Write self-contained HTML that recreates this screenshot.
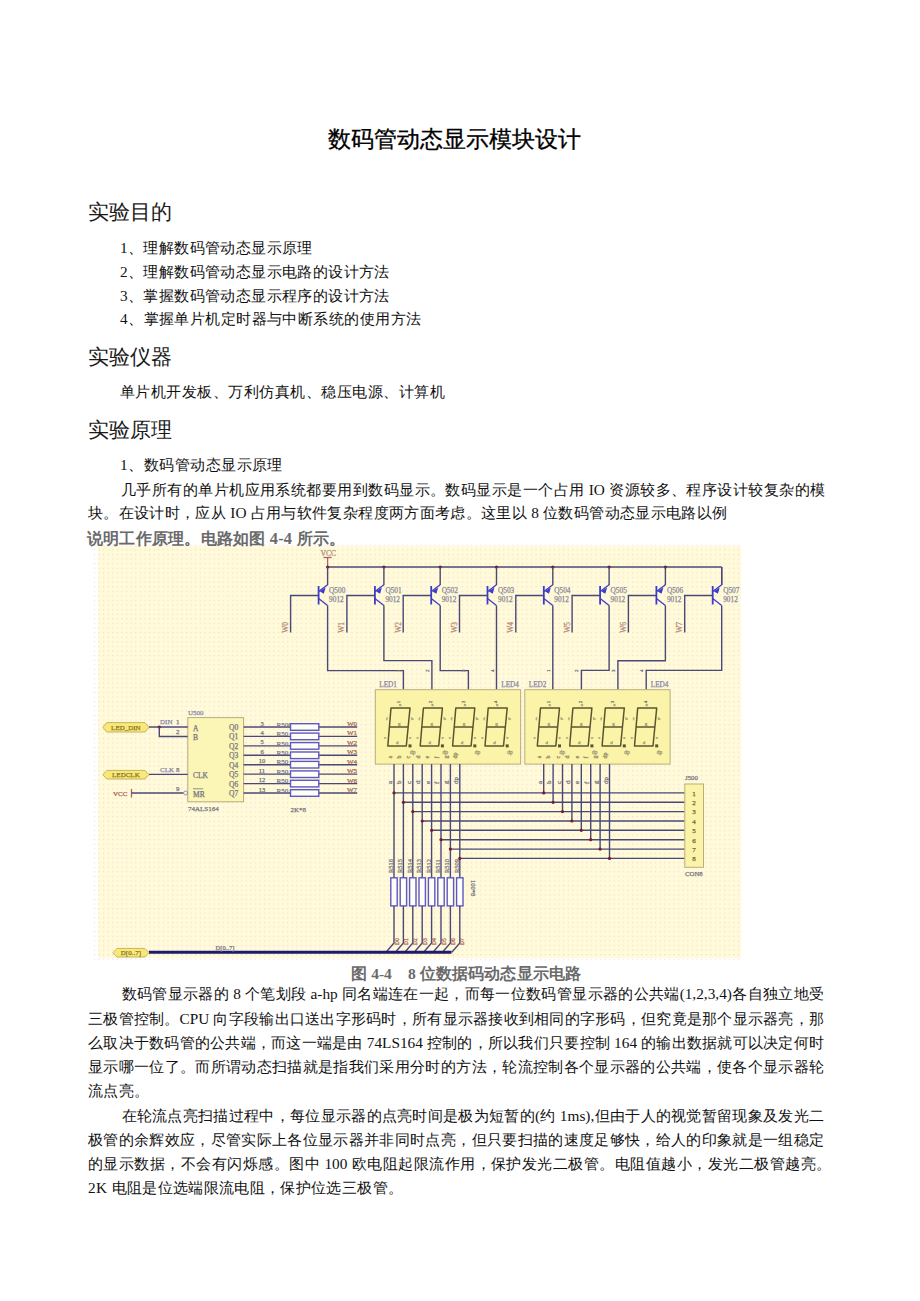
<!DOCTYPE html>
<html><head><meta charset="utf-8">
<style>
html,body{margin:0;padding:0;background:#fff;}
body{width:920px;height:1301px;position:relative;overflow:hidden;font-family:"Liberation Serif",serif;color:#111;}
.l{position:absolute;white-space:nowrap;font-size:15.3px;line-height:18px;height:18px;}
.j{text-align:justify;text-align-last:justify;}
.h{position:absolute;white-space:nowrap;font-size:21px;line-height:24px;font-family:"Liberation Sans",sans-serif;font-weight:300;color:#1a1a1a;}
#title{position:absolute;left:328px;top:124px;width:253px;font-size:23px;line-height:30px;font-family:"Liberation Sans",sans-serif;text-align:justify;text-align-last:justify;white-space:nowrap;color:#000;-webkit-text-stroke:0.3px #000;}
svg{position:absolute;left:0;top:0;}
</style></head><body>
<svg width="920" height="1301" style="font-family:'Liberation Serif',serif"><defs><pattern id="dp" x="0" y="0" width="4.6" height="4.6" patternUnits="userSpaceOnUse"><rect x="2" y="2" width="1" height="1" fill="#f6c4e4"/></pattern></defs><rect x="98" y="546" width="643" height="412" fill="#fffbd8"/><rect x="93" y="543" width="648" height="420" fill="url(#dp)"/><text x="320.5" y="555.8" fill="#b48a7c" stroke="#b48a7c" stroke-width="0.25" font-size="7.6" text-anchor="start">VCC</text><line x1="327.6" y1="557.0" x2="327.6" y2="567.0" stroke="#a86858" stroke-width="1.3"/><line x1="323.5" y1="557.5" x2="331.7" y2="557.5" stroke="#a86858" stroke-width="1.3"/><line x1="327.6" y1="567.0" x2="721.7" y2="567.0" stroke="#4a4878" stroke-width="1.4"/><line x1="721.7" y1="567.0" x2="721.7" y2="585.0" stroke="#4a4878" stroke-width="1.4"/><circle cx="327.6" cy="567.0" r="1.6" fill="#7a1a2a"/><line x1="327.6" y1="567.0" x2="327.6" y2="585.0" stroke="#4a4878" stroke-width="1.4"/><line x1="318.6" y1="586.0" x2="318.6" y2="604.5" stroke="#3c3cc8" stroke-width="1.8"/><line x1="318.6" y1="591.5" x2="327.6" y2="584.8" stroke="#3c3cc8" stroke-width="1.3"/><polygon points="319.6,591.2 325.6,587.6 323.8,593.8" fill="#3c3cc8"/><line x1="318.6" y1="598.5" x2="327.6" y2="605.5" stroke="#3c3cc8" stroke-width="1.3"/><polyline points="290.6,632.5 290.6,595.5 318.6,595.5" fill="none" stroke="#4a4878" stroke-width="1.4"/><text x="329.1" y="592.8" fill="#8a8a9a" stroke="#8a8a9a" stroke-width="0.25" font-size="7.3" text-anchor="start">Q500</text><text x="329.1" y="602.3" fill="#8a8a9a" stroke="#8a8a9a" stroke-width="0.25" font-size="7.3" text-anchor="start">9012</text><text x="288.2" y="632.8" fill="#b48a7c" stroke="#b48a7c" stroke-width="0.25" font-size="7.5" text-anchor="start" transform="rotate(-90 288.2 632.8)">W0</text><polyline points="327.6,605.5 327.6,670.6 403.4,670.6 403.4,689.7" fill="none" stroke="#4a4878" stroke-width="1.4"/><circle cx="383.9" cy="567.0" r="1.6" fill="#7a1a2a"/><line x1="383.9" y1="567.0" x2="383.9" y2="585.0" stroke="#4a4878" stroke-width="1.4"/><line x1="374.9" y1="586.0" x2="374.9" y2="604.5" stroke="#3c3cc8" stroke-width="1.8"/><line x1="374.9" y1="591.5" x2="383.9" y2="584.8" stroke="#3c3cc8" stroke-width="1.3"/><polygon points="375.9,591.2 381.9,587.6 380.1,593.8" fill="#3c3cc8"/><line x1="374.9" y1="598.5" x2="383.9" y2="605.5" stroke="#3c3cc8" stroke-width="1.3"/><polyline points="346.9,632.5 346.9,595.5 374.9,595.5" fill="none" stroke="#4a4878" stroke-width="1.4"/><text x="385.4" y="592.8" fill="#8a8a9a" stroke="#8a8a9a" stroke-width="0.25" font-size="7.3" text-anchor="start">Q501</text><text x="385.4" y="602.3" fill="#8a8a9a" stroke="#8a8a9a" stroke-width="0.25" font-size="7.3" text-anchor="start">9012</text><text x="344.5" y="632.8" fill="#b48a7c" stroke="#b48a7c" stroke-width="0.25" font-size="7.5" text-anchor="start" transform="rotate(-90 344.5 632.8)">W1</text><polyline points="383.9,605.5 383.9,660.6 431.9,660.6 431.9,689.7" fill="none" stroke="#4a4878" stroke-width="1.4"/><circle cx="440.2" cy="567.0" r="1.6" fill="#7a1a2a"/><line x1="440.2" y1="567.0" x2="440.2" y2="585.0" stroke="#4a4878" stroke-width="1.4"/><line x1="431.2" y1="586.0" x2="431.2" y2="604.5" stroke="#3c3cc8" stroke-width="1.8"/><line x1="431.2" y1="591.5" x2="440.2" y2="584.8" stroke="#3c3cc8" stroke-width="1.3"/><polygon points="432.2,591.2 438.2,587.6 436.4,593.8" fill="#3c3cc8"/><line x1="431.2" y1="598.5" x2="440.2" y2="605.5" stroke="#3c3cc8" stroke-width="1.3"/><polyline points="403.2,632.5 403.2,595.5 431.2,595.5" fill="none" stroke="#4a4878" stroke-width="1.4"/><text x="441.7" y="592.8" fill="#8a8a9a" stroke="#8a8a9a" stroke-width="0.25" font-size="7.3" text-anchor="start">Q502</text><text x="441.7" y="602.3" fill="#8a8a9a" stroke="#8a8a9a" stroke-width="0.25" font-size="7.3" text-anchor="start">9012</text><text x="400.8" y="632.8" fill="#b48a7c" stroke="#b48a7c" stroke-width="0.25" font-size="7.5" text-anchor="start" transform="rotate(-90 400.8 632.8)">W2</text><polyline points="440.2,605.5 440.2,670.6 468.4,670.6 468.4,689.7" fill="none" stroke="#4a4878" stroke-width="1.4"/><circle cx="496.5" cy="567.0" r="1.6" fill="#7a1a2a"/><line x1="496.5" y1="567.0" x2="496.5" y2="585.0" stroke="#4a4878" stroke-width="1.4"/><line x1="487.5" y1="586.0" x2="487.5" y2="604.5" stroke="#3c3cc8" stroke-width="1.8"/><line x1="487.5" y1="591.5" x2="496.5" y2="584.8" stroke="#3c3cc8" stroke-width="1.3"/><polygon points="488.5,591.2 494.5,587.6 492.7,593.8" fill="#3c3cc8"/><line x1="487.5" y1="598.5" x2="496.5" y2="605.5" stroke="#3c3cc8" stroke-width="1.3"/><polyline points="459.5,632.5 459.5,595.5 487.5,595.5" fill="none" stroke="#4a4878" stroke-width="1.4"/><text x="498.0" y="592.8" fill="#8a8a9a" stroke="#8a8a9a" stroke-width="0.25" font-size="7.3" text-anchor="start">Q503</text><text x="498.0" y="602.3" fill="#8a8a9a" stroke="#8a8a9a" stroke-width="0.25" font-size="7.3" text-anchor="start">9012</text><text x="457.1" y="632.8" fill="#b48a7c" stroke="#b48a7c" stroke-width="0.25" font-size="7.5" text-anchor="start" transform="rotate(-90 457.1 632.8)">W3</text><line x1="496.5" y1="605.5" x2="496.5" y2="689.7" stroke="#4a4878" stroke-width="1.4"/><circle cx="552.8" cy="567.0" r="1.6" fill="#7a1a2a"/><line x1="552.8" y1="567.0" x2="552.8" y2="585.0" stroke="#4a4878" stroke-width="1.4"/><line x1="543.8" y1="586.0" x2="543.8" y2="604.5" stroke="#3c3cc8" stroke-width="1.8"/><line x1="543.8" y1="591.5" x2="552.8" y2="584.8" stroke="#3c3cc8" stroke-width="1.3"/><polygon points="544.8,591.2 550.8,587.6 549.0,593.8" fill="#3c3cc8"/><line x1="543.8" y1="598.5" x2="552.8" y2="605.5" stroke="#3c3cc8" stroke-width="1.3"/><polyline points="515.8,632.5 515.8,595.5 543.8,595.5" fill="none" stroke="#4a4878" stroke-width="1.4"/><text x="554.3" y="592.8" fill="#8a8a9a" stroke="#8a8a9a" stroke-width="0.25" font-size="7.3" text-anchor="start">Q504</text><text x="554.3" y="602.3" fill="#8a8a9a" stroke="#8a8a9a" stroke-width="0.25" font-size="7.3" text-anchor="start">9012</text><text x="513.4" y="632.8" fill="#b48a7c" stroke="#b48a7c" stroke-width="0.25" font-size="7.5" text-anchor="start" transform="rotate(-90 513.4 632.8)">W4</text><line x1="552.8" y1="605.5" x2="552.8" y2="689.7" stroke="#4a4878" stroke-width="1.4"/><circle cx="609.1" cy="567.0" r="1.6" fill="#7a1a2a"/><line x1="609.1" y1="567.0" x2="609.1" y2="585.0" stroke="#4a4878" stroke-width="1.4"/><line x1="600.1" y1="586.0" x2="600.1" y2="604.5" stroke="#3c3cc8" stroke-width="1.8"/><line x1="600.1" y1="591.5" x2="609.1" y2="584.8" stroke="#3c3cc8" stroke-width="1.3"/><polygon points="601.1,591.2 607.1,587.6 605.3,593.8" fill="#3c3cc8"/><line x1="600.1" y1="598.5" x2="609.1" y2="605.5" stroke="#3c3cc8" stroke-width="1.3"/><polyline points="572.1,632.5 572.1,595.5 600.1,595.5" fill="none" stroke="#4a4878" stroke-width="1.4"/><text x="610.6" y="592.8" fill="#8a8a9a" stroke="#8a8a9a" stroke-width="0.25" font-size="7.3" text-anchor="start">Q505</text><text x="610.6" y="602.3" fill="#8a8a9a" stroke="#8a8a9a" stroke-width="0.25" font-size="7.3" text-anchor="start">9012</text><text x="569.7" y="632.8" fill="#b48a7c" stroke="#b48a7c" stroke-width="0.25" font-size="7.5" text-anchor="start" transform="rotate(-90 569.7 632.8)">W5</text><polyline points="609.1,605.5 609.1,670.4 581.4,670.4 581.4,689.7" fill="none" stroke="#4a4878" stroke-width="1.4"/><circle cx="665.4" cy="567.0" r="1.6" fill="#7a1a2a"/><line x1="665.4" y1="567.0" x2="665.4" y2="585.0" stroke="#4a4878" stroke-width="1.4"/><line x1="656.4" y1="586.0" x2="656.4" y2="604.5" stroke="#3c3cc8" stroke-width="1.8"/><line x1="656.4" y1="591.5" x2="665.4" y2="584.8" stroke="#3c3cc8" stroke-width="1.3"/><polygon points="657.4,591.2 663.4,587.6 661.6,593.8" fill="#3c3cc8"/><line x1="656.4" y1="598.5" x2="665.4" y2="605.5" stroke="#3c3cc8" stroke-width="1.3"/><polyline points="628.4,632.5 628.4,595.5 656.4,595.5" fill="none" stroke="#4a4878" stroke-width="1.4"/><text x="666.9" y="592.8" fill="#8a8a9a" stroke="#8a8a9a" stroke-width="0.25" font-size="7.3" text-anchor="start">Q506</text><text x="666.9" y="602.3" fill="#8a8a9a" stroke="#8a8a9a" stroke-width="0.25" font-size="7.3" text-anchor="start">9012</text><text x="626.0" y="632.8" fill="#b48a7c" stroke="#b48a7c" stroke-width="0.25" font-size="7.5" text-anchor="start" transform="rotate(-90 626.0 632.8)">W6</text><polyline points="665.4,605.5 665.4,660.7 617.9,660.7 617.9,689.7" fill="none" stroke="#4a4878" stroke-width="1.4"/><line x1="721.7" y1="567.0" x2="721.7" y2="585.0" stroke="#4a4878" stroke-width="1.4"/><line x1="712.7" y1="586.0" x2="712.7" y2="604.5" stroke="#3c3cc8" stroke-width="1.8"/><line x1="712.7" y1="591.5" x2="721.7" y2="584.8" stroke="#3c3cc8" stroke-width="1.3"/><polygon points="713.7,591.2 719.7,587.6 717.9,593.8" fill="#3c3cc8"/><line x1="712.7" y1="598.5" x2="721.7" y2="605.5" stroke="#3c3cc8" stroke-width="1.3"/><polyline points="684.7,632.5 684.7,595.5 712.7,595.5" fill="none" stroke="#4a4878" stroke-width="1.4"/><text x="723.2" y="592.8" fill="#8a8a9a" stroke="#8a8a9a" stroke-width="0.25" font-size="7.3" text-anchor="start">Q507</text><text x="723.2" y="602.3" fill="#8a8a9a" stroke="#8a8a9a" stroke-width="0.25" font-size="7.3" text-anchor="start">9012</text><text x="682.3" y="632.8" fill="#b48a7c" stroke="#b48a7c" stroke-width="0.25" font-size="7.5" text-anchor="start" transform="rotate(-90 682.3 632.8)">W7</text><polyline points="721.7,605.5 721.7,670.4 646.2,670.4 646.2,689.7" fill="none" stroke="#4a4878" stroke-width="1.4"/><rect x="375.3" y="689.7" width="145.3" height="74.4" fill="#fbf4a8" stroke="#b8ae80" stroke-width="1"/><text x="379.3" y="687.0" fill="#8888a8" stroke="#8888a8" stroke-width="0.25" font-size="7.2" text-anchor="start">LED1</text><text x="501.3" y="687.0" fill="#8888a8" stroke="#8888a8" stroke-width="0.25" font-size="7.2" text-anchor="start">LED4</text><text x="400.4" y="672.0" fill="#75757f" stroke="#75757f" stroke-width="0.25" font-size="5" text-anchor="start" transform="rotate(-90 400.4 672.0)">1</text><text x="428.9" y="672.0" fill="#75757f" stroke="#75757f" stroke-width="0.25" font-size="5" text-anchor="start" transform="rotate(-90 428.9 672.0)">2</text><text x="465.4" y="672.0" fill="#75757f" stroke="#75757f" stroke-width="0.25" font-size="5" text-anchor="start" transform="rotate(-90 465.4 672.0)">3</text><text x="493.7" y="672.0" fill="#75757f" stroke="#75757f" stroke-width="0.25" font-size="5" text-anchor="start" transform="rotate(-90 493.7 672.0)">4</text><path d="M391.0,708 L410.0,708 L406.3,746 L387.8,746 Z M389.4,727 L408.2,727" fill="none" stroke="#5a5530" stroke-width="1.5" stroke-linejoin="round"/><rect x="408.5" y="744.4" width="3" height="3" fill="#5a5530"/><text x="400.0" y="702.0" fill="#75757f" stroke="#75757f" stroke-width="0.25" font-size="5" text-anchor="middle" transform="rotate(-90 400.0 702.0)">1</text><text x="400.0" y="706.0" fill="#9a9470" stroke="#9a9470" stroke-width="0.25" font-size="5" text-anchor="middle">a</text><text x="386.0" y="720.0" fill="#9a9470" stroke="#9a9470" stroke-width="0.25" font-size="5" text-anchor="start">f</text><text x="411.0" y="720.0" fill="#9a9470" stroke="#9a9470" stroke-width="0.25" font-size="5" text-anchor="start">b</text><text x="398.0" y="725.0" fill="#9a9470" stroke="#9a9470" stroke-width="0.25" font-size="5" text-anchor="start">g</text><text x="384.0" y="739.0" fill="#9a9470" stroke="#9a9470" stroke-width="0.25" font-size="5" text-anchor="start">e</text><text x="409.0" y="739.0" fill="#9a9470" stroke="#9a9470" stroke-width="0.25" font-size="5" text-anchor="start">c</text><text x="396.0" y="744.0" fill="#9a9470" stroke="#9a9470" stroke-width="0.25" font-size="5" text-anchor="start">d</text><text x="410.0" y="754.0" fill="#9a9470" stroke="#9a9470" stroke-width="0.25" font-size="5.5" text-anchor="start">dp</text><path d="M423.4,708 L442.4,708 L438.7,746 L420.2,746 Z M421.8,727 L440.6,727" fill="none" stroke="#5a5530" stroke-width="1.5" stroke-linejoin="round"/><rect x="440.9" y="744.4" width="3" height="3" fill="#5a5530"/><text x="432.4" y="702.0" fill="#75757f" stroke="#75757f" stroke-width="0.25" font-size="5" text-anchor="middle" transform="rotate(-90 432.4 702.0)">2</text><text x="432.4" y="706.0" fill="#9a9470" stroke="#9a9470" stroke-width="0.25" font-size="5" text-anchor="middle">a</text><text x="418.4" y="720.0" fill="#9a9470" stroke="#9a9470" stroke-width="0.25" font-size="5" text-anchor="start">f</text><text x="443.4" y="720.0" fill="#9a9470" stroke="#9a9470" stroke-width="0.25" font-size="5" text-anchor="start">b</text><text x="430.4" y="725.0" fill="#9a9470" stroke="#9a9470" stroke-width="0.25" font-size="5" text-anchor="start">g</text><text x="416.4" y="739.0" fill="#9a9470" stroke="#9a9470" stroke-width="0.25" font-size="5" text-anchor="start">e</text><text x="441.4" y="739.0" fill="#9a9470" stroke="#9a9470" stroke-width="0.25" font-size="5" text-anchor="start">c</text><text x="428.4" y="744.0" fill="#9a9470" stroke="#9a9470" stroke-width="0.25" font-size="5" text-anchor="start">d</text><text x="442.4" y="754.0" fill="#9a9470" stroke="#9a9470" stroke-width="0.25" font-size="5.5" text-anchor="start">dp</text><path d="M455.8,708 L474.8,708 L471.1,746 L452.6,746 Z M454.2,727 L473.0,727" fill="none" stroke="#5a5530" stroke-width="1.5" stroke-linejoin="round"/><rect x="473.3" y="744.4" width="3" height="3" fill="#5a5530"/><text x="464.8" y="702.0" fill="#75757f" stroke="#75757f" stroke-width="0.25" font-size="5" text-anchor="middle" transform="rotate(-90 464.8 702.0)">3</text><text x="464.8" y="706.0" fill="#9a9470" stroke="#9a9470" stroke-width="0.25" font-size="5" text-anchor="middle">a</text><text x="450.8" y="720.0" fill="#9a9470" stroke="#9a9470" stroke-width="0.25" font-size="5" text-anchor="start">f</text><text x="475.8" y="720.0" fill="#9a9470" stroke="#9a9470" stroke-width="0.25" font-size="5" text-anchor="start">b</text><text x="462.8" y="725.0" fill="#9a9470" stroke="#9a9470" stroke-width="0.25" font-size="5" text-anchor="start">g</text><text x="448.8" y="739.0" fill="#9a9470" stroke="#9a9470" stroke-width="0.25" font-size="5" text-anchor="start">e</text><text x="473.8" y="739.0" fill="#9a9470" stroke="#9a9470" stroke-width="0.25" font-size="5" text-anchor="start">c</text><text x="460.8" y="744.0" fill="#9a9470" stroke="#9a9470" stroke-width="0.25" font-size="5" text-anchor="start">d</text><text x="474.8" y="754.0" fill="#9a9470" stroke="#9a9470" stroke-width="0.25" font-size="5.5" text-anchor="start">dp</text><path d="M488.2,708 L507.2,708 L503.5,746 L485.0,746 Z M486.6,727 L505.4,727" fill="none" stroke="#5a5530" stroke-width="1.5" stroke-linejoin="round"/><rect x="505.7" y="744.4" width="3" height="3" fill="#5a5530"/><text x="497.2" y="702.0" fill="#75757f" stroke="#75757f" stroke-width="0.25" font-size="5" text-anchor="middle" transform="rotate(-90 497.2 702.0)">4</text><text x="497.2" y="706.0" fill="#9a9470" stroke="#9a9470" stroke-width="0.25" font-size="5" text-anchor="middle">a</text><text x="483.2" y="720.0" fill="#9a9470" stroke="#9a9470" stroke-width="0.25" font-size="5" text-anchor="start">f</text><text x="508.2" y="720.0" fill="#9a9470" stroke="#9a9470" stroke-width="0.25" font-size="5" text-anchor="start">b</text><text x="495.2" y="725.0" fill="#9a9470" stroke="#9a9470" stroke-width="0.25" font-size="5" text-anchor="start">g</text><text x="481.2" y="739.0" fill="#9a9470" stroke="#9a9470" stroke-width="0.25" font-size="5" text-anchor="start">e</text><text x="506.2" y="739.0" fill="#9a9470" stroke="#9a9470" stroke-width="0.25" font-size="5" text-anchor="start">c</text><text x="493.2" y="744.0" fill="#9a9470" stroke="#9a9470" stroke-width="0.25" font-size="5" text-anchor="start">d</text><text x="507.2" y="754.0" fill="#9a9470" stroke="#9a9470" stroke-width="0.25" font-size="5.5" text-anchor="start">dp</text><text x="391.5" y="758.5" fill="#8a8460" stroke="#8a8460" stroke-width="0.25" font-size="6" text-anchor="start" transform="rotate(-90 391.5 758.5)">a</text><text x="400.9" y="758.5" fill="#8a8460" stroke="#8a8460" stroke-width="0.25" font-size="6" text-anchor="start" transform="rotate(-90 400.9 758.5)">b</text><text x="410.3" y="758.5" fill="#8a8460" stroke="#8a8460" stroke-width="0.25" font-size="6" text-anchor="start" transform="rotate(-90 410.3 758.5)">c</text><text x="419.7" y="758.5" fill="#8a8460" stroke="#8a8460" stroke-width="0.25" font-size="6" text-anchor="start" transform="rotate(-90 419.7 758.5)">d</text><text x="429.1" y="758.5" fill="#8a8460" stroke="#8a8460" stroke-width="0.25" font-size="6" text-anchor="start" transform="rotate(-90 429.1 758.5)">e</text><text x="438.5" y="758.5" fill="#8a8460" stroke="#8a8460" stroke-width="0.25" font-size="6" text-anchor="start" transform="rotate(-90 438.5 758.5)">f</text><text x="447.9" y="758.5" fill="#8a8460" stroke="#8a8460" stroke-width="0.25" font-size="6" text-anchor="start" transform="rotate(-90 447.9 758.5)">g</text><text x="457.3" y="758.5" fill="#8a8460" stroke="#8a8460" stroke-width="0.25" font-size="6" text-anchor="start" transform="rotate(-90 457.3 758.5)">dp</text><rect x="524.8" y="689.7" width="145.3" height="74.4" fill="#fbf4a8" stroke="#b8ae80" stroke-width="1"/><text x="528.8" y="687.0" fill="#8888a8" stroke="#8888a8" stroke-width="0.25" font-size="7.2" text-anchor="start">LED2</text><text x="650.8" y="687.0" fill="#8888a8" stroke="#8888a8" stroke-width="0.25" font-size="7.2" text-anchor="start">LED4</text><text x="549.9" y="672.0" fill="#75757f" stroke="#75757f" stroke-width="0.25" font-size="5" text-anchor="start" transform="rotate(-90 549.9 672.0)">1</text><text x="578.4" y="672.0" fill="#75757f" stroke="#75757f" stroke-width="0.25" font-size="5" text-anchor="start" transform="rotate(-90 578.4 672.0)">2</text><text x="614.9" y="672.0" fill="#75757f" stroke="#75757f" stroke-width="0.25" font-size="5" text-anchor="start" transform="rotate(-90 614.9 672.0)">3</text><text x="643.2" y="672.0" fill="#75757f" stroke="#75757f" stroke-width="0.25" font-size="5" text-anchor="start" transform="rotate(-90 643.2 672.0)">4</text><path d="M540.5,708 L559.5,708 L555.8,746 L537.3,746 Z M538.9,727 L557.7,727" fill="none" stroke="#5a5530" stroke-width="1.5" stroke-linejoin="round"/><rect x="558.0" y="744.4" width="3" height="3" fill="#5a5530"/><text x="549.5" y="702.0" fill="#75757f" stroke="#75757f" stroke-width="0.25" font-size="5" text-anchor="middle" transform="rotate(-90 549.5 702.0)">1</text><text x="549.5" y="706.0" fill="#9a9470" stroke="#9a9470" stroke-width="0.25" font-size="5" text-anchor="middle">a</text><text x="535.5" y="720.0" fill="#9a9470" stroke="#9a9470" stroke-width="0.25" font-size="5" text-anchor="start">f</text><text x="560.5" y="720.0" fill="#9a9470" stroke="#9a9470" stroke-width="0.25" font-size="5" text-anchor="start">b</text><text x="547.5" y="725.0" fill="#9a9470" stroke="#9a9470" stroke-width="0.25" font-size="5" text-anchor="start">g</text><text x="533.5" y="739.0" fill="#9a9470" stroke="#9a9470" stroke-width="0.25" font-size="5" text-anchor="start">e</text><text x="558.5" y="739.0" fill="#9a9470" stroke="#9a9470" stroke-width="0.25" font-size="5" text-anchor="start">c</text><text x="545.5" y="744.0" fill="#9a9470" stroke="#9a9470" stroke-width="0.25" font-size="5" text-anchor="start">d</text><text x="559.5" y="754.0" fill="#9a9470" stroke="#9a9470" stroke-width="0.25" font-size="5.5" text-anchor="start">dp</text><path d="M572.9,708 L591.9,708 L588.2,746 L569.7,746 Z M571.3,727 L590.1,727" fill="none" stroke="#5a5530" stroke-width="1.5" stroke-linejoin="round"/><rect x="590.4" y="744.4" width="3" height="3" fill="#5a5530"/><text x="581.9" y="702.0" fill="#75757f" stroke="#75757f" stroke-width="0.25" font-size="5" text-anchor="middle" transform="rotate(-90 581.9 702.0)">2</text><text x="581.9" y="706.0" fill="#9a9470" stroke="#9a9470" stroke-width="0.25" font-size="5" text-anchor="middle">a</text><text x="567.9" y="720.0" fill="#9a9470" stroke="#9a9470" stroke-width="0.25" font-size="5" text-anchor="start">f</text><text x="592.9" y="720.0" fill="#9a9470" stroke="#9a9470" stroke-width="0.25" font-size="5" text-anchor="start">b</text><text x="579.9" y="725.0" fill="#9a9470" stroke="#9a9470" stroke-width="0.25" font-size="5" text-anchor="start">g</text><text x="565.9" y="739.0" fill="#9a9470" stroke="#9a9470" stroke-width="0.25" font-size="5" text-anchor="start">e</text><text x="590.9" y="739.0" fill="#9a9470" stroke="#9a9470" stroke-width="0.25" font-size="5" text-anchor="start">c</text><text x="577.9" y="744.0" fill="#9a9470" stroke="#9a9470" stroke-width="0.25" font-size="5" text-anchor="start">d</text><text x="591.9" y="754.0" fill="#9a9470" stroke="#9a9470" stroke-width="0.25" font-size="5.5" text-anchor="start">dp</text><path d="M605.3,708 L624.3,708 L620.6,746 L602.1,746 Z M603.7,727 L622.5,727" fill="none" stroke="#5a5530" stroke-width="1.5" stroke-linejoin="round"/><rect x="622.8" y="744.4" width="3" height="3" fill="#5a5530"/><text x="614.3" y="702.0" fill="#75757f" stroke="#75757f" stroke-width="0.25" font-size="5" text-anchor="middle" transform="rotate(-90 614.3 702.0)">3</text><text x="614.3" y="706.0" fill="#9a9470" stroke="#9a9470" stroke-width="0.25" font-size="5" text-anchor="middle">a</text><text x="600.3" y="720.0" fill="#9a9470" stroke="#9a9470" stroke-width="0.25" font-size="5" text-anchor="start">f</text><text x="625.3" y="720.0" fill="#9a9470" stroke="#9a9470" stroke-width="0.25" font-size="5" text-anchor="start">b</text><text x="612.3" y="725.0" fill="#9a9470" stroke="#9a9470" stroke-width="0.25" font-size="5" text-anchor="start">g</text><text x="598.3" y="739.0" fill="#9a9470" stroke="#9a9470" stroke-width="0.25" font-size="5" text-anchor="start">e</text><text x="623.3" y="739.0" fill="#9a9470" stroke="#9a9470" stroke-width="0.25" font-size="5" text-anchor="start">c</text><text x="610.3" y="744.0" fill="#9a9470" stroke="#9a9470" stroke-width="0.25" font-size="5" text-anchor="start">d</text><text x="624.3" y="754.0" fill="#9a9470" stroke="#9a9470" stroke-width="0.25" font-size="5.5" text-anchor="start">dp</text><path d="M637.7,708 L656.7,708 L653.0,746 L634.5,746 Z M636.1,727 L654.9,727" fill="none" stroke="#5a5530" stroke-width="1.5" stroke-linejoin="round"/><rect x="655.2" y="744.4" width="3" height="3" fill="#5a5530"/><text x="646.7" y="702.0" fill="#75757f" stroke="#75757f" stroke-width="0.25" font-size="5" text-anchor="middle" transform="rotate(-90 646.7 702.0)">4</text><text x="646.7" y="706.0" fill="#9a9470" stroke="#9a9470" stroke-width="0.25" font-size="5" text-anchor="middle">a</text><text x="632.7" y="720.0" fill="#9a9470" stroke="#9a9470" stroke-width="0.25" font-size="5" text-anchor="start">f</text><text x="657.7" y="720.0" fill="#9a9470" stroke="#9a9470" stroke-width="0.25" font-size="5" text-anchor="start">b</text><text x="644.7" y="725.0" fill="#9a9470" stroke="#9a9470" stroke-width="0.25" font-size="5" text-anchor="start">g</text><text x="630.7" y="739.0" fill="#9a9470" stroke="#9a9470" stroke-width="0.25" font-size="5" text-anchor="start">e</text><text x="655.7" y="739.0" fill="#9a9470" stroke="#9a9470" stroke-width="0.25" font-size="5" text-anchor="start">c</text><text x="642.7" y="744.0" fill="#9a9470" stroke="#9a9470" stroke-width="0.25" font-size="5" text-anchor="start">d</text><text x="656.7" y="754.0" fill="#9a9470" stroke="#9a9470" stroke-width="0.25" font-size="5.5" text-anchor="start">dp</text><text x="541.0" y="758.5" fill="#8a8460" stroke="#8a8460" stroke-width="0.25" font-size="6" text-anchor="start" transform="rotate(-90 541.0 758.5)">a</text><text x="550.4" y="758.5" fill="#8a8460" stroke="#8a8460" stroke-width="0.25" font-size="6" text-anchor="start" transform="rotate(-90 550.4 758.5)">b</text><text x="559.8" y="758.5" fill="#8a8460" stroke="#8a8460" stroke-width="0.25" font-size="6" text-anchor="start" transform="rotate(-90 559.8 758.5)">c</text><text x="569.2" y="758.5" fill="#8a8460" stroke="#8a8460" stroke-width="0.25" font-size="6" text-anchor="start" transform="rotate(-90 569.2 758.5)">d</text><text x="578.6" y="758.5" fill="#8a8460" stroke="#8a8460" stroke-width="0.25" font-size="6" text-anchor="start" transform="rotate(-90 578.6 758.5)">e</text><text x="588.0" y="758.5" fill="#8a8460" stroke="#8a8460" stroke-width="0.25" font-size="6" text-anchor="start" transform="rotate(-90 588.0 758.5)">f</text><text x="597.4" y="758.5" fill="#8a8460" stroke="#8a8460" stroke-width="0.25" font-size="6" text-anchor="start" transform="rotate(-90 597.4 758.5)">g</text><text x="606.8" y="758.5" fill="#8a8460" stroke="#8a8460" stroke-width="0.25" font-size="6" text-anchor="start" transform="rotate(-90 606.8 758.5)">dp</text><line x1="394.0" y1="764.1" x2="394.0" y2="877.8" stroke="#4a4878" stroke-width="1.4"/><line x1="543.7" y1="764.1" x2="543.7" y2="792.9" stroke="#4a4878" stroke-width="1.4"/><line x1="394.0" y1="792.9" x2="684.8" y2="792.9" stroke="#4a4878" stroke-width="1.4"/><circle cx="394.0" cy="792.9" r="1.6" fill="#7a1a2a"/><circle cx="543.7" cy="792.9" r="1.6" fill="#7a1a2a"/><text x="392.0" y="784.0" fill="#75757f" stroke="#75757f" stroke-width="0.25" font-size="7" text-anchor="start" transform="rotate(-90 392.0 784.0)">a</text><text x="541.7" y="784.0" fill="#75757f" stroke="#75757f" stroke-width="0.25" font-size="7" text-anchor="start" transform="rotate(-90 541.7 784.0)">a</text><rect x="390.8" y="877.8" width="6.4" height="28.1" fill="#fffef6" stroke="#5c58c8" stroke-width="1.4"/><polyline points="394.0,905.9 394.0,943.0 386.0,952.3" fill="none" stroke="#4a4878" stroke-width="1.4"/><text x="393.0" y="873.0" fill="#75757f" stroke="#75757f" stroke-width="0.25" font-size="6.5" text-anchor="start" transform="rotate(-90 393.0 873.0)">R516</text><text x="398.5" y="945.0" fill="#a86858" stroke="#a86858" stroke-width="0.25" font-size="5.5" text-anchor="start" transform="rotate(-90 398.5 945.0)">D0</text><line x1="403.4" y1="764.1" x2="403.4" y2="877.8" stroke="#4a4878" stroke-width="1.4"/><line x1="553.1" y1="764.1" x2="553.1" y2="802.3" stroke="#4a4878" stroke-width="1.4"/><line x1="403.4" y1="802.3" x2="684.8" y2="802.3" stroke="#4a4878" stroke-width="1.4"/><circle cx="403.4" cy="802.3" r="1.6" fill="#7a1a2a"/><circle cx="553.1" cy="802.3" r="1.6" fill="#7a1a2a"/><text x="401.4" y="784.0" fill="#75757f" stroke="#75757f" stroke-width="0.25" font-size="7" text-anchor="start" transform="rotate(-90 401.4 784.0)">b</text><text x="551.1" y="784.0" fill="#75757f" stroke="#75757f" stroke-width="0.25" font-size="7" text-anchor="start" transform="rotate(-90 551.1 784.0)">b</text><rect x="400.2" y="877.8" width="6.4" height="28.1" fill="#fffef6" stroke="#5c58c8" stroke-width="1.4"/><polyline points="403.4,905.9 403.4,943.0 395.4,952.3" fill="none" stroke="#4a4878" stroke-width="1.4"/><text x="402.4" y="873.0" fill="#75757f" stroke="#75757f" stroke-width="0.25" font-size="6.5" text-anchor="start" transform="rotate(-90 402.4 873.0)">R515</text><text x="407.9" y="945.0" fill="#a86858" stroke="#a86858" stroke-width="0.25" font-size="5.5" text-anchor="start" transform="rotate(-90 407.9 945.0)">D1</text><line x1="412.8" y1="764.1" x2="412.8" y2="877.8" stroke="#4a4878" stroke-width="1.4"/><line x1="562.5" y1="764.1" x2="562.5" y2="811.6" stroke="#4a4878" stroke-width="1.4"/><line x1="412.8" y1="811.6" x2="684.8" y2="811.6" stroke="#4a4878" stroke-width="1.4"/><circle cx="412.8" cy="811.6" r="1.6" fill="#7a1a2a"/><circle cx="562.5" cy="811.6" r="1.6" fill="#7a1a2a"/><text x="410.8" y="784.0" fill="#75757f" stroke="#75757f" stroke-width="0.25" font-size="7" text-anchor="start" transform="rotate(-90 410.8 784.0)">c</text><text x="560.5" y="784.0" fill="#75757f" stroke="#75757f" stroke-width="0.25" font-size="7" text-anchor="start" transform="rotate(-90 560.5 784.0)">c</text><rect x="409.6" y="877.8" width="6.4" height="28.1" fill="#fffef6" stroke="#5c58c8" stroke-width="1.4"/><polyline points="412.8,905.9 412.8,943.0 404.8,952.3" fill="none" stroke="#4a4878" stroke-width="1.4"/><text x="411.8" y="873.0" fill="#75757f" stroke="#75757f" stroke-width="0.25" font-size="6.5" text-anchor="start" transform="rotate(-90 411.8 873.0)">R514</text><text x="417.3" y="945.0" fill="#a86858" stroke="#a86858" stroke-width="0.25" font-size="5.5" text-anchor="start" transform="rotate(-90 417.3 945.0)">D2</text><line x1="422.2" y1="764.1" x2="422.2" y2="877.8" stroke="#4a4878" stroke-width="1.4"/><line x1="571.9" y1="764.1" x2="571.9" y2="821.0" stroke="#4a4878" stroke-width="1.4"/><line x1="422.2" y1="821.0" x2="684.8" y2="821.0" stroke="#4a4878" stroke-width="1.4"/><circle cx="422.2" cy="821.0" r="1.6" fill="#7a1a2a"/><circle cx="571.9" cy="821.0" r="1.6" fill="#7a1a2a"/><text x="420.2" y="784.0" fill="#75757f" stroke="#75757f" stroke-width="0.25" font-size="7" text-anchor="start" transform="rotate(-90 420.2 784.0)">d</text><text x="569.9" y="784.0" fill="#75757f" stroke="#75757f" stroke-width="0.25" font-size="7" text-anchor="start" transform="rotate(-90 569.9 784.0)">d</text><rect x="419.0" y="877.8" width="6.4" height="28.1" fill="#fffef6" stroke="#5c58c8" stroke-width="1.4"/><polyline points="422.2,905.9 422.2,943.0 414.2,952.3" fill="none" stroke="#4a4878" stroke-width="1.4"/><text x="421.2" y="873.0" fill="#75757f" stroke="#75757f" stroke-width="0.25" font-size="6.5" text-anchor="start" transform="rotate(-90 421.2 873.0)">R513</text><text x="426.7" y="945.0" fill="#a86858" stroke="#a86858" stroke-width="0.25" font-size="5.5" text-anchor="start" transform="rotate(-90 426.7 945.0)">D3</text><line x1="431.6" y1="764.1" x2="431.6" y2="877.8" stroke="#4a4878" stroke-width="1.4"/><line x1="581.3" y1="764.1" x2="581.3" y2="830.3" stroke="#4a4878" stroke-width="1.4"/><line x1="431.6" y1="830.3" x2="684.8" y2="830.3" stroke="#4a4878" stroke-width="1.4"/><circle cx="431.6" cy="830.3" r="1.6" fill="#7a1a2a"/><circle cx="581.3" cy="830.3" r="1.6" fill="#7a1a2a"/><text x="429.6" y="784.0" fill="#75757f" stroke="#75757f" stroke-width="0.25" font-size="7" text-anchor="start" transform="rotate(-90 429.6 784.0)">e</text><text x="579.3" y="784.0" fill="#75757f" stroke="#75757f" stroke-width="0.25" font-size="7" text-anchor="start" transform="rotate(-90 579.3 784.0)">e</text><rect x="428.4" y="877.8" width="6.4" height="28.1" fill="#fffef6" stroke="#5c58c8" stroke-width="1.4"/><polyline points="431.6,905.9 431.6,943.0 423.6,952.3" fill="none" stroke="#4a4878" stroke-width="1.4"/><text x="430.6" y="873.0" fill="#75757f" stroke="#75757f" stroke-width="0.25" font-size="6.5" text-anchor="start" transform="rotate(-90 430.6 873.0)">R512</text><text x="436.1" y="945.0" fill="#a86858" stroke="#a86858" stroke-width="0.25" font-size="5.5" text-anchor="start" transform="rotate(-90 436.1 945.0)">D4</text><line x1="441.0" y1="764.1" x2="441.0" y2="877.8" stroke="#4a4878" stroke-width="1.4"/><line x1="590.7" y1="764.1" x2="590.7" y2="839.7" stroke="#4a4878" stroke-width="1.4"/><line x1="441.0" y1="839.7" x2="684.8" y2="839.7" stroke="#4a4878" stroke-width="1.4"/><circle cx="441.0" cy="839.7" r="1.6" fill="#7a1a2a"/><circle cx="590.7" cy="839.7" r="1.6" fill="#7a1a2a"/><text x="439.0" y="784.0" fill="#75757f" stroke="#75757f" stroke-width="0.25" font-size="7" text-anchor="start" transform="rotate(-90 439.0 784.0)">f</text><text x="588.7" y="784.0" fill="#75757f" stroke="#75757f" stroke-width="0.25" font-size="7" text-anchor="start" transform="rotate(-90 588.7 784.0)">f</text><rect x="437.8" y="877.8" width="6.4" height="28.1" fill="#fffef6" stroke="#5c58c8" stroke-width="1.4"/><polyline points="441.0,905.9 441.0,943.0 433.0,952.3" fill="none" stroke="#4a4878" stroke-width="1.4"/><text x="440.0" y="873.0" fill="#75757f" stroke="#75757f" stroke-width="0.25" font-size="6.5" text-anchor="start" transform="rotate(-90 440.0 873.0)">R511</text><text x="445.5" y="945.0" fill="#a86858" stroke="#a86858" stroke-width="0.25" font-size="5.5" text-anchor="start" transform="rotate(-90 445.5 945.0)">D5</text><line x1="450.4" y1="764.1" x2="450.4" y2="877.8" stroke="#4a4878" stroke-width="1.4"/><line x1="600.1" y1="764.1" x2="600.1" y2="849.1" stroke="#4a4878" stroke-width="1.4"/><line x1="450.4" y1="849.1" x2="684.8" y2="849.1" stroke="#4a4878" stroke-width="1.4"/><circle cx="450.4" cy="849.1" r="1.6" fill="#7a1a2a"/><circle cx="600.1" cy="849.1" r="1.6" fill="#7a1a2a"/><text x="448.4" y="784.0" fill="#75757f" stroke="#75757f" stroke-width="0.25" font-size="7" text-anchor="start" transform="rotate(-90 448.4 784.0)">g</text><text x="598.1" y="784.0" fill="#75757f" stroke="#75757f" stroke-width="0.25" font-size="7" text-anchor="start" transform="rotate(-90 598.1 784.0)">g</text><rect x="447.2" y="877.8" width="6.4" height="28.1" fill="#fffef6" stroke="#5c58c8" stroke-width="1.4"/><polyline points="450.4,905.9 450.4,943.0 442.4,952.3" fill="none" stroke="#4a4878" stroke-width="1.4"/><text x="449.4" y="873.0" fill="#75757f" stroke="#75757f" stroke-width="0.25" font-size="6.5" text-anchor="start" transform="rotate(-90 449.4 873.0)">R510</text><text x="454.9" y="945.0" fill="#a86858" stroke="#a86858" stroke-width="0.25" font-size="5.5" text-anchor="start" transform="rotate(-90 454.9 945.0)">D6</text><line x1="459.8" y1="764.1" x2="459.8" y2="877.8" stroke="#4a4878" stroke-width="1.4"/><line x1="609.5" y1="764.1" x2="609.5" y2="858.4" stroke="#4a4878" stroke-width="1.4"/><line x1="459.8" y1="858.4" x2="684.8" y2="858.4" stroke="#4a4878" stroke-width="1.4"/><circle cx="459.8" cy="858.4" r="1.6" fill="#7a1a2a"/><circle cx="609.5" cy="858.4" r="1.6" fill="#7a1a2a"/><text x="457.8" y="784.0" fill="#75757f" stroke="#75757f" stroke-width="0.25" font-size="7" text-anchor="start" transform="rotate(-90 457.8 784.0)">dp</text><text x="607.5" y="784.0" fill="#75757f" stroke="#75757f" stroke-width="0.25" font-size="7" text-anchor="start" transform="rotate(-90 607.5 784.0)">dp</text><rect x="456.6" y="877.8" width="6.4" height="28.1" fill="#fffef6" stroke="#5c58c8" stroke-width="1.4"/><polyline points="459.8,905.9 459.8,943.0 451.8,952.3" fill="none" stroke="#4a4878" stroke-width="1.4"/><text x="458.8" y="873.0" fill="#75757f" stroke="#75757f" stroke-width="0.25" font-size="6.5" text-anchor="start" transform="rotate(-90 458.8 873.0)">R509</text><text x="464.3" y="945.0" fill="#a86858" stroke="#a86858" stroke-width="0.25" font-size="5.5" text-anchor="start" transform="rotate(-90 464.3 945.0)">D7</text><text x="471.0" y="880.0" fill="#75757f" stroke="#75757f" stroke-width="0.25" font-size="6.5" text-anchor="start" transform="rotate(90 471.0 880.0)">100*8</text><rect x="684.8" y="784" width="18.7" height="83.3" fill="#fbf4a8" stroke="#b8ae80" stroke-width="1"/><text x="685.0" y="779.5" fill="#75757f" stroke="#75757f" stroke-width="0.25" font-size="6.8" text-anchor="start">J500</text><text x="685.0" y="875.5" fill="#75757f" stroke="#75757f" stroke-width="0.25" font-size="6.8" text-anchor="start">CON8</text><text x="694.0" y="795.7" fill="#6a6440" stroke="#6a6440" stroke-width="0.25" font-size="7" text-anchor="middle">1</text><text x="694.0" y="805.1" fill="#6a6440" stroke="#6a6440" stroke-width="0.25" font-size="7" text-anchor="middle">2</text><text x="694.0" y="814.4" fill="#6a6440" stroke="#6a6440" stroke-width="0.25" font-size="7" text-anchor="middle">3</text><text x="694.0" y="823.8" fill="#6a6440" stroke="#6a6440" stroke-width="0.25" font-size="7" text-anchor="middle">4</text><text x="694.0" y="833.1" fill="#6a6440" stroke="#6a6440" stroke-width="0.25" font-size="7" text-anchor="middle">5</text><text x="694.0" y="842.5" fill="#6a6440" stroke="#6a6440" stroke-width="0.25" font-size="7" text-anchor="middle">6</text><text x="694.0" y="851.9" fill="#6a6440" stroke="#6a6440" stroke-width="0.25" font-size="7" text-anchor="middle">7</text><text x="694.0" y="861.2" fill="#6a6440" stroke="#6a6440" stroke-width="0.25" font-size="7" text-anchor="middle">8</text><line x1="148.8" y1="952.3" x2="451.5" y2="952.3" stroke="#1c1a70" stroke-width="3"/><text x="215.6" y="950.0" fill="#75757f" stroke="#75757f" stroke-width="0.25" font-size="6.5" text-anchor="start">D[0..7]</text><polygon points="113.0,952.7 117.0,948.4 144.8,948.4 148.8,952.7 144.8,957.0 117.0,957.0" fill="#f7e878" stroke="#c8b460" stroke-width="1"/><text x="130.9" y="954.7" fill="#8c7628" stroke="#8c7628" stroke-width="0.25" font-size="7" text-anchor="middle">D[0..7]</text><polygon points="102.8,727.3 106.8,722.6 145.0,722.6 149.0,727.3 145.0,732.0 106.8,732.0" fill="#f7e878" stroke="#c8b460" stroke-width="1"/><text x="125.9" y="729.7" fill="#8c7628" stroke="#8c7628" stroke-width="0.25" font-size="7" text-anchor="middle">LED_DIN</text><polygon points="102.8,774.7 106.8,770.4 145.0,770.4 149.0,774.7 145.0,779.0 106.8,779.0" fill="#f7e878" stroke="#c8b460" stroke-width="1"/><text x="125.9" y="776.7" fill="#8c7628" stroke="#8c7628" stroke-width="0.25" font-size="7" text-anchor="middle">LEDCLK</text><rect x="187.8" y="717.6" width="55.8" height="84.2" fill="#fcf6b6" stroke="#b8aa80" stroke-width="1"/><text x="188.0" y="715.0" fill="#8888a8" stroke="#8888a8" stroke-width="0.25" font-size="7" text-anchor="start">U500</text><text x="188.0" y="811.0" fill="#75757f" stroke="#75757f" stroke-width="0.25" font-size="7" text-anchor="start">74ALS164</text><text x="193.0" y="730.5" fill="#75757f" stroke="#75757f" stroke-width="0.25" font-size="7.5" text-anchor="start">A</text><text x="193.0" y="740.0" fill="#75757f" stroke="#75757f" stroke-width="0.25" font-size="7.5" text-anchor="start">B</text><text x="193.0" y="777.5" fill="#75757f" stroke="#75757f" stroke-width="0.25" font-size="7.5" text-anchor="start">CLK</text><text x="193.0" y="796.5" fill="#75757f" stroke="#75757f" stroke-width="0.25" font-size="7.5" text-anchor="start">MR</text><line x1="193.0" y1="788.8" x2="203.0" y2="788.8" stroke="#75757f" stroke-width="0.8"/><line x1="149.0" y1="727.0" x2="187.8" y2="727.0" stroke="#4a4878" stroke-width="1.4"/><circle cx="159.3" cy="727.0" r="1.6" fill="#7a1a2a"/><polyline points="159.3,727.0 159.3,736.5 187.8,736.5" fill="none" stroke="#4a4878" stroke-width="1.4"/><text x="160.0" y="724.0" fill="#8a86b0" stroke="#8a86b0" stroke-width="0.25" font-size="7" text-anchor="start">DIN</text><text x="176.0" y="724.0" fill="#75757f" stroke="#75757f" stroke-width="0.25" font-size="7" text-anchor="start">1</text><text x="176.0" y="734.0" fill="#75757f" stroke="#75757f" stroke-width="0.25" font-size="7" text-anchor="start">2</text><line x1="149.0" y1="774.4" x2="187.8" y2="774.4" stroke="#4a4878" stroke-width="1.4"/><text x="160.0" y="771.5" fill="#8a86b0" stroke="#8a86b0" stroke-width="0.25" font-size="7" text-anchor="start">CLK</text><text x="176.0" y="771.5" fill="#75757f" stroke="#75757f" stroke-width="0.25" font-size="7" text-anchor="start">8</text><text x="113.0" y="796.0" fill="#a86858" stroke="#a86858" stroke-width="0.25" font-size="7" text-anchor="start">VCC</text><line x1="131.5" y1="789.0" x2="131.5" y2="797.5" stroke="#a86858" stroke-width="1.3"/><line x1="131.5" y1="793.0" x2="183.5" y2="793.0" stroke="#4a4878" stroke-width="1.4"/><circle cx="185.6" cy="793" r="2" fill="none" stroke="#8a86a0" stroke-width="0.9"/><text x="176.0" y="790.5" fill="#75757f" stroke="#75757f" stroke-width="0.25" font-size="7" text-anchor="start">9</text><text x="229.0" y="730.0" fill="#75757f" stroke="#75757f" stroke-width="0.25" font-size="7.5" text-anchor="start">Q0</text><line x1="243.6" y1="727.0" x2="357.2" y2="727.0" stroke="#4a4878" stroke-width="1.4"/><text x="262.0" y="725.5" fill="#75757f" stroke="#75757f" stroke-width="0.25" font-size="6.5" text-anchor="middle">3</text><text x="276.5" y="726.7" fill="#7a7a96" stroke="#7a7a96" stroke-width="0.25" font-size="7" text-anchor="start">R500</text><rect x="290.5" y="723.7" width="28.3" height="6.6" fill="#fffef6" stroke="#5c58c8" stroke-width="1.4"/><text x="357.0" y="726.0" fill="#a86858" stroke="#a86858" stroke-width="0.25" font-size="7" text-anchor="end">W0</text><text x="229.0" y="739.4" fill="#75757f" stroke="#75757f" stroke-width="0.25" font-size="7.5" text-anchor="start">Q1</text><line x1="243.6" y1="736.4" x2="357.2" y2="736.4" stroke="#4a4878" stroke-width="1.4"/><text x="262.0" y="734.9" fill="#75757f" stroke="#75757f" stroke-width="0.25" font-size="6.5" text-anchor="middle">4</text><text x="276.5" y="736.1" fill="#7a7a96" stroke="#7a7a96" stroke-width="0.25" font-size="7" text-anchor="start">R50</text><rect x="290.5" y="733.1" width="28.3" height="6.6" fill="#fffef6" stroke="#5c58c8" stroke-width="1.4"/><text x="357.0" y="735.4" fill="#a86858" stroke="#a86858" stroke-width="0.25" font-size="7" text-anchor="end">W1</text><text x="229.0" y="748.9" fill="#75757f" stroke="#75757f" stroke-width="0.25" font-size="7.5" text-anchor="start">Q2</text><line x1="243.6" y1="745.9" x2="357.2" y2="745.9" stroke="#4a4878" stroke-width="1.4"/><text x="262.0" y="744.4" fill="#75757f" stroke="#75757f" stroke-width="0.25" font-size="6.5" text-anchor="middle">5</text><text x="276.5" y="745.6" fill="#7a7a96" stroke="#7a7a96" stroke-width="0.25" font-size="7" text-anchor="start">R50</text><rect x="290.5" y="742.6" width="28.3" height="6.6" fill="#fffef6" stroke="#5c58c8" stroke-width="1.4"/><text x="357.0" y="744.9" fill="#a86858" stroke="#a86858" stroke-width="0.25" font-size="7" text-anchor="end">W2</text><text x="229.0" y="758.3" fill="#75757f" stroke="#75757f" stroke-width="0.25" font-size="7.5" text-anchor="start">Q3</text><line x1="243.6" y1="755.3" x2="357.2" y2="755.3" stroke="#4a4878" stroke-width="1.4"/><text x="262.0" y="753.8" fill="#75757f" stroke="#75757f" stroke-width="0.25" font-size="6.5" text-anchor="middle">6</text><text x="276.5" y="755.0" fill="#7a7a96" stroke="#7a7a96" stroke-width="0.25" font-size="7" text-anchor="start">R50</text><rect x="290.5" y="752.0" width="28.3" height="6.6" fill="#fffef6" stroke="#5c58c8" stroke-width="1.4"/><text x="357.0" y="754.3" fill="#a86858" stroke="#a86858" stroke-width="0.25" font-size="7" text-anchor="end">W3</text><text x="229.0" y="767.7" fill="#75757f" stroke="#75757f" stroke-width="0.25" font-size="7.5" text-anchor="start">Q4</text><line x1="243.6" y1="764.7" x2="357.2" y2="764.7" stroke="#4a4878" stroke-width="1.4"/><text x="262.0" y="763.2" fill="#75757f" stroke="#75757f" stroke-width="0.25" font-size="6.5" text-anchor="middle">10</text><text x="276.5" y="764.4" fill="#7a7a96" stroke="#7a7a96" stroke-width="0.25" font-size="7" text-anchor="start">R50</text><rect x="290.5" y="761.4" width="28.3" height="6.6" fill="#fffef6" stroke="#5c58c8" stroke-width="1.4"/><text x="357.0" y="763.7" fill="#a86858" stroke="#a86858" stroke-width="0.25" font-size="7" text-anchor="end">W4</text><text x="229.0" y="777.1" fill="#75757f" stroke="#75757f" stroke-width="0.25" font-size="7.5" text-anchor="start">Q5</text><line x1="243.6" y1="774.1" x2="357.2" y2="774.1" stroke="#4a4878" stroke-width="1.4"/><text x="262.0" y="772.6" fill="#75757f" stroke="#75757f" stroke-width="0.25" font-size="6.5" text-anchor="middle">11</text><text x="276.5" y="773.9" fill="#7a7a96" stroke="#7a7a96" stroke-width="0.25" font-size="7" text-anchor="start">R50</text><rect x="290.5" y="770.9" width="28.3" height="6.6" fill="#fffef6" stroke="#5c58c8" stroke-width="1.4"/><text x="357.0" y="773.1" fill="#a86858" stroke="#a86858" stroke-width="0.25" font-size="7" text-anchor="end">W5</text><text x="229.0" y="786.6" fill="#75757f" stroke="#75757f" stroke-width="0.25" font-size="7.5" text-anchor="start">Q6</text><line x1="243.6" y1="783.6" x2="357.2" y2="783.6" stroke="#4a4878" stroke-width="1.4"/><text x="262.0" y="782.1" fill="#75757f" stroke="#75757f" stroke-width="0.25" font-size="6.5" text-anchor="middle">12</text><text x="276.5" y="783.3" fill="#7a7a96" stroke="#7a7a96" stroke-width="0.25" font-size="7" text-anchor="start">R50</text><rect x="290.5" y="780.3" width="28.3" height="6.6" fill="#fffef6" stroke="#5c58c8" stroke-width="1.4"/><text x="357.0" y="782.6" fill="#a86858" stroke="#a86858" stroke-width="0.25" font-size="7" text-anchor="end">W6</text><text x="229.0" y="796.0" fill="#75757f" stroke="#75757f" stroke-width="0.25" font-size="7.5" text-anchor="start">Q7</text><line x1="243.6" y1="793.0" x2="357.2" y2="793.0" stroke="#4a4878" stroke-width="1.4"/><text x="262.0" y="791.5" fill="#75757f" stroke="#75757f" stroke-width="0.25" font-size="6.5" text-anchor="middle">13</text><text x="276.5" y="792.7" fill="#7a7a96" stroke="#7a7a96" stroke-width="0.25" font-size="7" text-anchor="start">R50</text><rect x="290.5" y="789.7" width="28.3" height="6.6" fill="#fffef6" stroke="#5c58c8" stroke-width="1.4"/><text x="357.0" y="792.0" fill="#a86858" stroke="#a86858" stroke-width="0.25" font-size="7" text-anchor="end">W7</text><text x="290.5" y="811.5" fill="#75757f" stroke="#75757f" stroke-width="0.25" font-size="7" text-anchor="start">2K*8</text></svg>
<div id="title">数码管动态显示模块设计</div>

<div class="h" style="left:88px;top:200px">实验目的</div>
<div class="l j" style="left:120px;top:239px;width:192.5px">1、理解数码管动态显示原理</div>
<div class="l j" style="left:120px;top:263px;width:269.5px">2、理解数码管动态显示电路的设计方法</div>
<div class="l j" style="left:120px;top:287px;width:269.5px">3、掌握数码管动态显示程序的设计方法</div>
<div class="l j" style="left:120px;top:310px;width:301px">4、掌握单片机定时器与中断系统的使用方法</div>

<div class="h" style="left:88px;top:345px">实验仪器</div>
<div class="l j" style="left:120px;top:383px;width:324.5px">单片机开发板、万利仿真机、稳压电源、计算机</div>

<div class="h" style="left:88px;top:418px">实验原理</div>
<div class="l j" style="left:120px;top:455.5px;width:162.5px">1、数码管动态显示原理</div>
<div class="l j" style="left:121px;top:481px;width:704px">几乎所有的单片机应用系统都要用到数码显示。数码显示是一个占用 IO 资源较多、程序设计较复杂的模</div>
<div class="l j" style="left:88px;top:504px;width:639px">块。在设计时，应从 IO 占用与软件复杂程度两方面考虑。这里以 8 位数码管动态显示电路以例</div>
<div class="l j" style="left:87px;top:529.5px;width:252px;letter-spacing:0.22px;font-size:16.4px;font-weight:bold;color:#6a6a6a">说明工作原理。电路如图 4-4 所示。</div>

<div class="l j" style="left:351px;top:965px;width:230px;font-size:15.5px;font-weight:bold;color:#6a6a6a">图 4-4　8 位数据码动态显示电路</div>

<div class="l j" style="left:121.5px;top:984.5px;width:702.5px">数码管显示器的 8 个笔划段 a-hp 同名端连在一起，而每一位数码管显示器的公共端(1,2,3,4)各自独立地受</div>
<div class="l j" style="left:88px;top:1009.5px;width:736px">三极管控制。CPU 向字段输出口送出字形码时，所有显示器接收到相同的字形码，但究竟是那个显示器亮，那</div>
<div class="l j" style="left:88px;top:1033.5px;width:736px">么取决于数码管的公共端，而这一端是由 74LS164 控制的，所以我们只要控制 164 的输出数据就可以决定何时</div>
<div class="l j" style="left:88px;top:1057.5px;width:736px">显示哪一位了。而所谓动态扫描就是指我们采用分时的方法，轮流控制各个显示器的公共端，使各个显示器轮</div>
<div class="l" style="left:88px;top:1081.5px;letter-spacing:0.35px">流点亮。</div>
<div class="l j" style="left:121.5px;top:1106.5px;width:702.5px">在轮流点亮扫描过程中，每位显示器的点亮时间是极为短暂的(约 1ms),但由于人的视觉暂留现象及发光二</div>
<div class="l j" style="left:88px;top:1130.5px;width:736px">极管的余辉效应，尽管实际上各位显示器并非同时点亮，但只要扫描的速度足够快，给人的印象就是一组稳定</div>
<div class="l j" style="left:88px;top:1154.5px;width:743px">的显示数据，不会有闪烁感。图中 100 欧电阻起限流作用，保护发光二极管。电阻值越小，发光二极管越亮。</div>
<div class="l" style="left:88px;top:1178.5px;letter-spacing:0.35px">2K 电阻是位选端限流电阻，保护位选三极管。</div>


</body></html>
